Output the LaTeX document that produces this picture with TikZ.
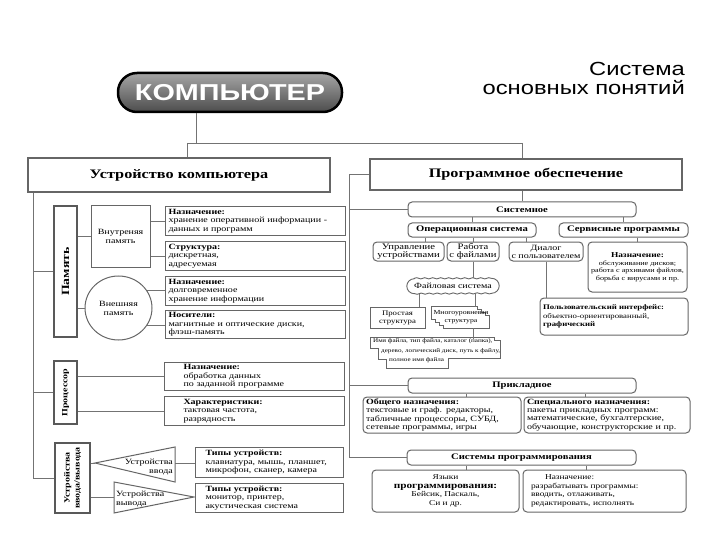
\documentclass[tikz,border=0pt]{standalone}
\usepackage{fontspec}
\setmainfont[FakeStretch=1.25]{Liberation Serif}
\setsansfont[FakeStretch=1.25]{Liberation Sans}
\usepackage{graphicx}
\usetikzlibrary{positioning,shapes.geometric,decorations.pathmorphing}
\newcommand{\fsz}[2]{\fontsize{#1}{#2}\selectfont}

\tikzset{
  link/.style={draw=black!55, line width=0.6pt},
  headbox/.style={draw=black!60, line width=1.3pt, fill=white, font=\bfseries\fsz{13}{15}},
  sidebox/.style={draw=black!65, line width=2.2pt, fill=white, inner sep=0pt},
  plainbox/.style={draw=black!60, line width=1pt, fill=white, align=center, inner sep=1pt, font=\fsz{8}{9}},
  infobox/.style={draw=black!60, line width=1pt, fill=white, align=left, inner xsep=3pt, inner ysep=1pt, anchor=north west, font=\fsz{8}{8.5}},
  roundbox/.style={draw=black!60, line width=1pt, rounded corners=4pt, fill=white, align=center, inner sep=1pt},
  waveline/.style={draw=black!60, line width=0.9pt, decoration={snake, amplitude=0.6pt, segment length=8pt}},
  tribox/.style={draw=black!60, line width=1pt, fill=white},
  stepline/.style={draw=black!60, line width=1pt, fill=white},
  tritext/.style={inner sep=0pt, font=\fsz{8}{8.5}}
}

\begin{document}
\begin{tikzpicture}[x=1pt, y=-1pt]
\useasboundingbox (0,0) rectangle (720,540);

% title
\node[draw=black, line width=2.5pt, rounded corners=19pt, top color=black!35, bottom color=black!70,
  text=white, font=\sffamily\bfseries\fsz{23}{25}, minimum width=224pt, minimum height=39pt] (comp) at (230,92.5) {КОМПЬЮТЕР};
\node[anchor=north east, align=right, inner sep=0pt, text=black, font=\sffamily\fsz{19}{19}] (ttl) at (685,62) {Система\\основных понятий};

\node[headbox, minimum width=302pt, minimum height=34pt] (dev) at (179,175) {Устройство компьютера};
\node[headbox, minimum width=312pt, minimum height=31pt] (soft) at (526,174.5) {Программное обеспечение};

\coordinate (hubL) at (187,143);
\coordinate (hubR) at (522,143);
\draw[link] (comp.south -| 196,0) -- (196,143);
\draw[link] (hubL) -- (hubR);
\draw[link] (hubL) -- (hubL |- dev.north);
\draw[link] (hubR) -- (hubR |- soft.north);

% memory
\node[sidebox, minimum width=23pt, minimum height=131pt, font=\bfseries\fsz{11}{12}] (mem) at (65.5,271.5) {\rotatebox{90}{Память}};
\node[plainbox, minimum width=59pt, minimum height=61pt] (inmem) at (120.5,236.5) {Внутреняя\\память};
\node[ellipse, draw=black!60, line width=1pt, fill=white, minimum width=67pt, minimum height=64pt, align=center,
  inner sep=0pt, font=\fsz{8}{9}] (exmem) at (118.5,308) {Внешняя\\память};
\node[infobox, text width=174pt, minimum height=29pt] (memA) at (165,206) {\textbf{Назначение:}\\хранение оперативной информации -\\данных и программ};
\node[infobox, text width=174pt, minimum height=29pt] (memB) at (165,241) {\textbf{Структура:}\\дискретная,\\адресуемая};
\node[infobox, text width=174pt, minimum height=29pt] (memC) at (165,276) {\textbf{Назначение:}\\долговременное\\хранение информации};
\node[infobox, text width=174pt, minimum height=28pt] (memD) at (165,310) {\textbf{Носители:}\\магнитные и оптические диски,\\флэш-память};

% processor
\node[sidebox, minimum width=23pt, minimum height=63pt, font=\bfseries\fsz{8}{9}] (cpu) at (65.5,392.5) {\rotatebox{90}{Процессор}};
\node[infobox, inner xsep=19pt, text width=142pt, minimum height=28pt] (cpuA) at (164,362) {\textbf{Назначение:}\\обработка данных\\по заданной программе};
\node[infobox, inner xsep=19pt, text width=142pt, minimum height=29pt] (cpuB) at (164,396) {\textbf{Характеристики:}\\тактовая частота,\\разрядность};

% input/output
\node[sidebox, minimum width=35pt, minimum height=70pt, font=\bfseries\fsz{8}{9}] (io) at (72.5,478) {\rotatebox{90}{\shortstack{Устройства\\ввода/вывода}}};
\coordinate (tinTip) at (95,463);
\coordinate (tinBase) at (175,463);
\draw[tribox] (tinTip) -- (175,447) -- (175,482) -- cycle;
\node[tritext, anchor=east, align=right] (tin) at (173,467) {Устройства\\ввода};
\coordinate (toutBase) at (114,497);
\coordinate (toutTip) at (194,497);
\draw[tribox] (114,482) -- (toutTip) -- (114,513) -- cycle;
\node[tritext, anchor=west, align=left] (tout) at (116,499) {Устройства\\вывода};
\node[infobox, inner xsep=10pt, text width=128pt, minimum height=30pt] (ioA) at (195,447) {\textbf{Типы устройств:}\\клавиатура, мышь, планшет,\\микрофон, сканер, камера};
\node[infobox, inner xsep=10pt, text width=128pt, minimum height=29pt] (ioB) at (195,483) {\textbf{Типы устройств:}\\монитор, принтер,\\акустическая система};

% left connectors
\coordinate (spL) at (33,0);
\draw[link] (dev.south -| spL) -- (spL |- io) -- (io);
\draw[link] (spL |- mem) -- (mem);
\draw[link] (spL |- cpu) -- (cpu);
\draw[link] (mem.east |- inmem) -- (inmem);
\draw[link] (mem.east |- exmem) -- (exmem);
\draw[link] (inmem.east |- memA) -- (memA);
\draw[link] (inmem.east |- memB) -- (memB);
\draw[link] (exmem.32) -- (exmem.32 -| memC.west);
\draw[link] (exmem.-32) -- (exmem.-32 -| memD.west);
\draw[link] (cpu.east |- cpuA) -- (cpuA);
\draw[link] (cpu.east |- cpuB) -- (cpuB);
\draw[link] (io.east |- tinTip) -- (tinTip);
\draw[link] (io.east |- toutBase) -- (toutBase);
\draw[link] (tinBase) -- (tinBase -| ioA.west);

% system software
\node[roundbox, font=\bfseries\fsz{8.5}{9}, minimum width=228pt, minimum height=15pt] (sys) at (522,209.5) {Системное};
\node[roundbox, font=\bfseries\fsz{8.5}{9}, minimum width=128pt, minimum height=14pt] (os) at (472,230) {Операционная система};
\node[roundbox, font=\bfseries\fsz{8.5}{9}, minimum width=129pt, minimum height=14pt] (srv) at (623.5,230) {Сервисные программы};
\node[roundbox, font=\fsz{8.5}{8}, minimum width=71pt, minimum height=19pt] (ctrl) at (408.5,251.5) {Управление\\устройствами};
\node[roundbox, font=\fsz{8.5}{8}, minimum width=52pt, minimum height=19pt] (files) at (473,251.5) {Работа\\с файлами};
\node[roundbox, font=\fsz{8}{8}, minimum width=74pt, minimum height=19pt] (dlg) at (546,251.5) {Диалог\\с пользователем};
\node[roundbox, font=\fsz{6.5}{7.5}, minimum width=99pt, minimum height=50pt] (srvinfo) at (637.5,267) {{\bfseries\fsz{7.5}{9}Назначение:}\\обслуживание дисков;\\работа с архивами файлов,\\борьба с вирусами и пр.};
\node[fill=white, inner sep=0pt, font=\fsz{8}{9}, minimum width=92pt, minimum height=15pt] (fs) at (453,286) {Файловая система};
\draw[waveline] ([xshift=7.5pt]fs.north west) decorate {-- ([xshift=-7.5pt]fs.north east)}
  arc[start angle=90, end angle=-90, radius=7.5pt]
  decorate {-- ([xshift=7.5pt]fs.south west)}
  arc[start angle=270, end angle=90, radius=7.5pt] -- cycle;
\node[roundbox, align=left, inner xsep=3pt, text width=142pt, font=\fsz{7}{8.5}, minimum height=37pt] (ui) at (614,316.5) {\textbf{Пользовательский интерфейс:}\\объектно-ориентированный,\\\textbf{графический}};
\node[plainbox, font=\fsz{7}{8}, minimum width=55pt, minimum height=21pt] (simple) at (397.5,317.5) {Простая\\структура};
\node[inner sep=0pt, minimum width=58pt, minimum height=21pt] (multi) at (461,317.5) {};
\draw[stepline] (multi.north west) -- ++(46,0) -- ++(0,3) -- ++(4,0) -- ++(0,3) -- ++(4,0) -- ++(0,3) -- ++(4,0)
  |- ([xshift=12pt]multi.south west) -- ++(0,-3) -- ++(-4,0) -- ++(0,-3) -- ++(-4,0) -- ++(0,-3) -- ++(-4,0) -- cycle;
\node[align=center, inner sep=0pt, font=\fsz{6.2}{8}] (multilbl) at (multi) {Многоуровневая\\структура};
\draw[stepline] (370,337) -- (494,337) -- (494,340) -- (500,340) -- (500,358) -- (448,358) -- (448,368)
  -- (386,368) -- (386,359) -- (378,359) -- (378,348) -- (370,348) -- cycle;
\node[anchor=north west, align=left, inner sep=0pt, font=\fsz{5.7}{9.5}] (names) at (373,338.5) {Имя файла, тип файла, каталог (папка),\\\hspace*{8pt}дерево, логический диск, путь к файлу,\\\hspace*{16pt}полное имя файла};

\draw[link] (sys.north |- soft.south) -- (sys.north);
\draw[link] (os.north |- sys.south) -- (os.north);
\draw[link] (srv.north |- sys.south) -- (srv.north);
\draw[link] ([xshift=18pt]os.south west) -- ([xshift=18pt]os.south west |- ctrl.north);
\draw[link] (files.north |- os.south) -- (files.north);
\draw[link] ([xshift=-10pt]os.south east) -- ([xshift=-10pt]os.south east |- dlg.north);
\draw[link] (srvinfo.north |- srv.south) -- (srvinfo.north);
\draw[link] (files.south) -- (files.south |- fs.north);
\draw[link] (dlg.south) -- (dlg.south |- ui.north);
\draw[link] ([xshift=-6pt]simple.north east |- fs.south) -- ([xshift=-6pt]simple.north east);
\draw[link] ([xshift=14pt]multi.north |- fs.south) -- ([xshift=14pt]multi.north);
\draw[link] ([xshift=12pt]multi.south) -- ([xshift=12pt]multi.south |- names.north);

% application software
\node[roundbox, font=\bfseries\fsz{8.5}{9}, minimum width=228pt, minimum height=15pt] (app) at (522,385.5) {Прикладное};
\node[roundbox, align=left, inner xsep=3pt, text width=152pt, font=\fsz{8}{8.3}, minimum height=36pt] (gen) at (442,415) {\textbf{Общего назначения:}\\текстовые и граф. редакторы,\\табличные процессоры, СУБД,\\сетевые программы, игры};
\node[roundbox, align=left, inner xsep=3pt, text width=160pt, font=\fsz{8}{8.3}, minimum height=36pt] (spec) at (607,415) {\textbf{Специального назначения:}\\пакеты прикладных программ:\\математические, бухгалтерские,\\обучающие, конструкторские и пр.};
\draw[link] ([xshift=-55pt]gen.north east) -- ([xshift=-55pt]gen.north east |- app.south);
\draw[link] ([xshift=62pt]spec.north west) -- ([xshift=62pt]spec.north west |- app.south);

% programming systems
\node[roundbox, font=\bfseries\fsz{8.5}{9}, minimum width=229pt, minimum height=15pt] (prog) at (521.5,457.5) {Системы программирования};
\node[roundbox, font=\fsz{7.5}{8.5}, minimum width=147pt, minimum height=42pt] (lang) at (445.5,491) {Языки\\{\bfseries\fsz{9}{9.5}программирования:}\\Бейсик, Паскаль,\\Си и др.};
\node[roundbox, align=left, inner xsep=8pt, text width=147pt, font=\fsz{7.5}{8.5}, minimum height=42pt] (purp) at (604.5,491) {\hspace*{14pt}Назначение:\\разрабатывать программы:\\вводить, отлаживать,\\редактировать, исполнять};
\draw[link] ([xshift=-53pt]lang.north east) -- ([xshift=-53pt]lang.north east |- prog.south);
\draw[link] ([xshift=64pt]purp.north west) -- ([xshift=64pt]purp.north west |- prog.south);

% right connectors
\coordinate (spR) at (349,0);
\draw[link] (soft.west) -- (soft.west -| spR) -- (spR |- prog) -- (prog.west);
\draw[link] (spR |- sys) -- (sys.west);
\draw[link] (spR |- app) -- (app.west);
\end{tikzpicture}
\end{document}
